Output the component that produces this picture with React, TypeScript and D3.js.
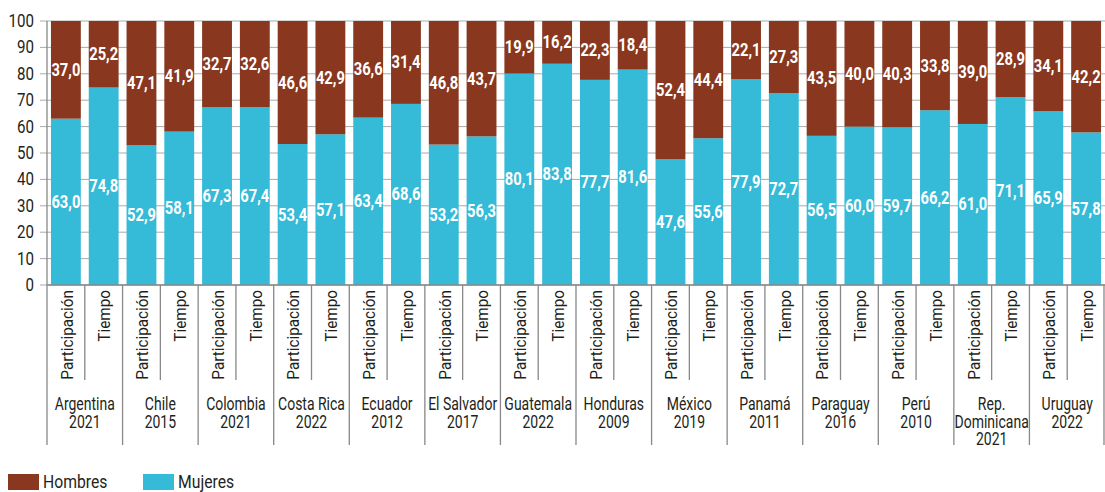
import React from "react";
import * as d3 from "d3";

const countries = ["Argentina\n2021", "Chile\n2015", "Colombia\n2021", "Costa Rica\n2022", "Ecuador\n2012", "El Salvador\n2017", "Guatemala\n2022", "Honduras\n2009", "México\n2019", "Panamá\n2011", "Paraguay\n2016", "Perú\n2010", "Rep.\nDominicana\n2021", "Uruguay\n2022"];
const subCategories = ["Participación", "Tiempo"];
const mujeresParticipacion = [63.0, 52.9, 67.3, 53.4, 63.4, 53.2, 80.1, 77.7, 47.6, 77.9, 56.5, 59.7, 61.0, 65.9];
const hombresParticipacion = [37.0, 47.1, 32.7, 46.6, 36.6, 46.8, 19.9, 22.3, 52.4, 22.1, 43.5, 40.3, 39.0, 34.1];
const mujeresTiempo = [74.8, 58.1, 67.4, 57.1, 68.6, 56.3, 83.8, 81.6, 55.6, 72.7, 60.0, 66.2, 71.1, 57.8];
const hombresTiempo = [25.2, 41.9, 32.6, 42.9, 31.4, 43.7, 16.2, 18.4, 44.4, 27.3, 40.0, 33.8, 28.9, 42.2];
const yTicks = [0, 10, 20, 30, 40, 50, 60, 70, 80, 90, 100];
const seriesNames = ["Hombres", "Mujeres"];

const W = 1105, H = 492;
const FONT = "Roboto, 'DejaVu Sans Condensed', sans-serif";
const BROWN = "#89371E";
const CYAN = "#35BAD7";
const TEXT = "#231f20";

type Row = { key: string; country: number; sub: string; mujeres: number; hombres: number };
const rows: Row[] = [];
countries.forEach((c, i) => {
  rows.push({ key: `${i}-P`, country: i, sub: subCategories[0], mujeres: mujeresParticipacion[i], hombres: hombresParticipacion[i] });
  rows.push({ key: `${i}-T`, country: i, sub: subCategories[1], mujeres: mujeresTiempo[i], hombres: hombresTiempo[i] });
});

const fmt = (v: number) => v.toFixed(1).replace(".", ",");

export default function App() {
  const axisX = 47;
  const x = d3.scaleBand<string>().domain(rows.map(r => r.key)).range([47, 1105]).paddingInner(0.21).paddingOuter(0.105);
  const y = d3.scaleLinear().domain([0, 100]).range([285, 21]);
  const step = x.step();
  const bandStart = (i: number) => 47 + i * step;
  const stack = d3.stack<Row>().keys(["mujeres", "hombres"])(rows as any);

  return (
    <svg width={W} height={H} style={{ position: "absolute", left: 0, top: 0, background: "#fff" }} fontFamily={FONT}>
      {yTicks.map(t => (
        <g key={t}>
          <line x1={axisX - 7} x2={W} y1={y(t)} y2={y(t)} stroke="#aaaaaa" strokeWidth={1} />
          <text transform={`translate(${axisX - 13},${y(t)}) scale(0.84,1)`} textAnchor="end" dominantBaseline="central" fontSize={18} fill={TEXT}>{t}</text>
        </g>
      ))}
      {stack.map((s, si) => (
        <g key={s.key} fill={si === 0 ? CYAN : BROWN}>
          {s.map((d, i) => (
            <rect key={i} x={x(rows[i].key)} width={x.bandwidth()} y={y(d[1])} height={y(d[0]) - y(d[1])} />
          ))}
        </g>
      ))}
      {stack.map((s, si) => (
        <g key={"l" + s.key}>
          {s.map((d, i) => (
            <text key={i} transform={`translate(${(x(rows[i].key) as number) + x.bandwidth() / 2},${y((d[0] + d[1]) / 2)}) scale(0.82,1)`} textAnchor="middle" dominantBaseline="central" fontSize={18} fontWeight="bold" fill="#fff">
              {fmt(si === 0 ? rows[i].mujeres : rows[i].hombres)}
            </text>
          ))}
        </g>
      ))}
      <line x1={axisX} x2={axisX} y1={y(100)} y2={y(0)} stroke="#888" strokeWidth={1.3} />
      <line x1={axisX} x2={W} y1={y(0)} y2={y(0)} stroke="#888" strokeWidth={1.3} />
      {rows.map((r, i) => {
        const bs = bandStart(i);
        const cx = (x(r.key) as number) + x.bandwidth() / 2;
        const isGroupStart = i % 2 === 0;
        return (
          <g key={"c" + r.key}>
            <line x1={bs} x2={bs} y1={y(0)} y2={isGroupStart ? 445 : 380} stroke="#888" strokeWidth={1.3} />
            <text transform={`translate(${cx + 1},290) rotate(-90) scale(0.9,1)`} textAnchor="end" dominantBaseline="central" fontSize={17} fill={TEXT}>{r.sub}</text>
          </g>
        );
      })}
      <line x1={1104} x2={1104} y1={y(0)} y2={445} stroke="#888" strokeWidth={1.3} />
      {countries.map((c, i) => {
        const cx = 47 + step * (2 * i + 1);
        return (
          <g key={"g" + i}>
            {c.split("\n").map((line, j) => (
              <text key={j} transform={`translate(${cx},${410 + j * 17.5}) scale(0.8,1)`} textAnchor="middle" fontSize={17.5} fill={TEXT}>{line}</text>
            ))}
          </g>
        );
      })}
      {seriesNames.map((n, i) => (
        <g key={n} transform={`translate(${i === 0 ? 8 : 143},474)`}>
          <rect width={31} height={16} fill={i === 0 ? BROWN : CYAN} />
          <text transform="translate(35,8) scale(0.85,1)" dominantBaseline="central" fontSize={18.5} fill={TEXT}>{n}</text>
        </g>
      ))}
    </svg>
  );
}
